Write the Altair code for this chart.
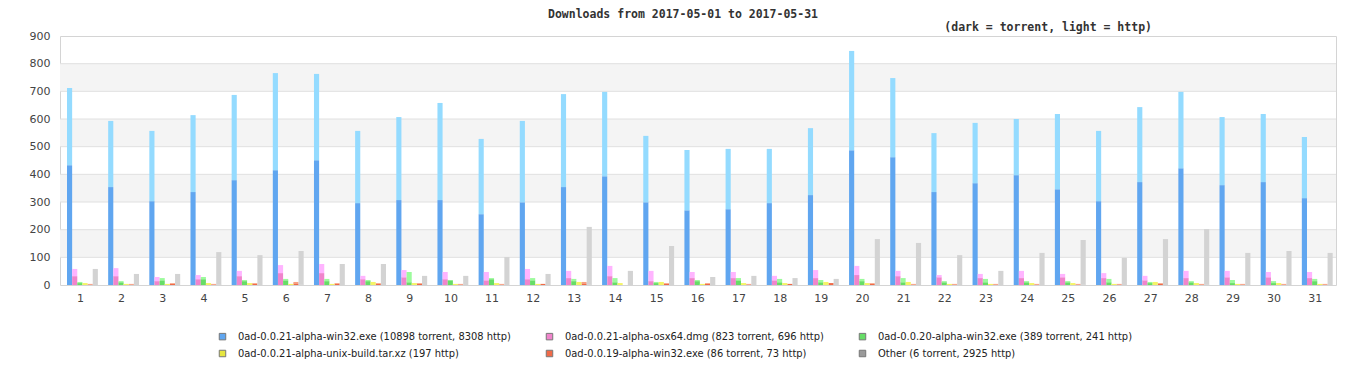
import altair as alt
import pandas as pd

days = list(range(1, 32))

series = [
    "0ad-0.0.21-alpha-win32.exe (10898 torrent, 8308 http)",
    "0ad-0.0.21-alpha-osx64.dmg (823 torrent, 696 http)",
    "0ad-0.0.20-alpha-win32.exe (389 torrent, 241 http)",
    "0ad-0.0.21-alpha-unix-build.tar.xz (197 http)",
    "0ad-0.0.19-alpha-win32.exe (86 torrent, 73 http)",
    "Other (6 torrent, 2925 http)",
]

# per-day totals (torrent + http) and torrent parts
win32_total = [712, 593, 557, 614, 687, 766, 763, 557, 607, 658, 528, 593, 690, 698, 539, 488,
               492, 492, 567, 846, 748, 549, 586, 600, 618, 557, 643, 698, 607, 618, 535]
win32_torrent = [433, 354, 303, 336, 379, 415, 451, 296, 307, 307, 256, 299, 354, 393, 299, 270,
                 274, 296, 325, 487, 462, 336, 368, 397, 346, 303, 372, 422, 361, 372, 314]

osx_total = [58, 61, 29, 36, 51, 72, 76, 33, 54, 47, 47, 58, 51, 69, 51, 47,
             47, 33, 54, 69, 51, 36, 40, 51, 40, 43, 33, 51, 51, 47, 47]
osx_torrent = [32, 32, 14, 21, 32, 43, 43, 21, 28, 21, 17, 21, 25, 32, 14, 25,
               25, 17, 25, 36, 32, 28, 25, 25, 28, 25, 17, 25, 28, 28, 25]

w20_total = [11, 14, 25, 29, 18, 22, 22, 18, 47, 18, 25, 25, 22, 25, 11, 18,
             25, 22, 18, 22, 25, 14, 22, 14, 14, 22, 11, 14, 18, 14, 22]
w20_torrent = [7, 10, 17, 21, 14, 17, 14, 14, 10, 17, 21, 17, 14, 10, 7, 14,
               17, 10, 10, 14, 10, 10, 10, 10, 10, 10, 7, 10, 7, 7, 14]

unix_total = [7, 4, 4, 7, 7, 4, 4, 11, 7, 4, 7, 4, 11, 7, 11, 4,
              7, 7, 11, 7, 11, 4, 4, 7, 7, 4, 11, 7, 4, 7, 4]
unix_torrent = [0] * 31

w19_total = [4, 4, 7, 4, 7, 11, 7, 7, 7, 4, 4, 4, 11, 0, 7, 7,
             4, 4, 7, 7, 4, 4, 4, 4, 4, 4, 7, 4, 4, 4, 4]
w19_torrent = [2, 2, 4, 2, 4, 6, 4, 4, 4, 2, 2, 4, 6, 0, 4, 4,
               2, 4, 7, 4, 2, 2, 2, 2, 2, 2, 4, 2, 2, 2, 2]

other_total = [58, 40, 40, 119, 108, 123, 76, 76, 33, 33, 101, 40, 210, 51, 141, 29,
               33, 25, 22, 166, 152, 108, 51, 116, 163, 98, 166, 202, 116, 123, 116]
other_torrent = [0, 0, 0, 1, 0, 1, 0, 0, 0, 0, 0, 0, 1, 0, 0, 0,
                 0, 0, 0, 1, 0, 0, 0, 0, 1, 0, 0, 1, 0, 0, 0]

totals = [win32_total, osx_total, w20_total, unix_total, w19_total, other_total]
torrents = [win32_torrent, osx_torrent, w20_torrent, unix_torrent, w19_torrent, other_torrent]

dark_colors = ["#60a6f0", "#f084cc", "#66dd66", "#e6e640", "#f06a48", "#9a9a9a"]
light_colors = ["#94dbff", "#ffb4ff", "#9cfb9c", "#f4f466", "#f8a080", "#d3d3d3"]

y_ticks = list(range(0, 1000, 100))
band_lo = [100, 300, 500, 700]
band_hi = [200, 400, 600, 800]

title_text = "Downloads from 2017-05-01 to 2017-05-31"
subtitle_text = "(dark = torrent, light = http)"

rows = []
for s, tot, tor in zip(series, totals, torrents):
    for d, a, b in zip(days, tot, tor):
        rows.append({"day": d, "series": s, "torrent": b, "total": a, "http": a - b})
df = pd.DataFrame(rows)

W, H = 1276, 249
ydom = [0, 900]
yscale = alt.Scale(domain=ydom, nice=False)
yaxis = alt.Axis(values=y_ticks, tickCount=10, ticks=False, tickSize=0, domain=False, grid=False,
                 labelOverlap=False, labelPadding=10, labelFont="DejaVu Sans",
                 labelFontSize=11, labelColor="#444")

bands = alt.Chart(pd.DataFrame({"lo": band_lo, "hi": band_hi})).mark_rect(color="#f4f4f4").encode(
    y=alt.Y("lo:Q", scale=yscale, title=None, axis=yaxis),
    y2="hi:Q",
    x=alt.value(0),
    x2=alt.value(W),
)

grid = alt.Chart(pd.DataFrame({"v": y_ticks[1:-1]})).mark_rule(color="#e0e0e0", strokeWidth=1).encode(
    y=alt.Y("v:Q", scale=yscale, title=None, axis=yaxis),
)

base = alt.Chart(df).encode(
    x=alt.X("day:O", title=None,
            scale=alt.Scale(paddingInner=0.25, paddingOuter=0.125, align=0.68),
            axis=alt.Axis(labelAngle=0, ticks=False, tickSize=0, domain=False, labelPadding=7,
                          labelFont="DejaVu Sans", labelFontSize=11, labelColor="#444",
                          labelOffset=-2, grid=False)),
    xOffset=alt.XOffset("series:N", sort=series,
                        scale=alt.Scale(domain=series, paddingInner=0, paddingOuter=0)),
)

torrent_bars = base.mark_bar().encode(
    y=alt.Y("torrent:Q", scale=yscale, title=None, axis=yaxis),
    color=alt.Color("series:N", sort=series,
                    scale=alt.Scale(domain=series, range=dark_colors),
                    legend=alt.Legend(title=None, orient="none", legendX=157, legendY=295,
                                      direction="horizontal", columns=3, columnPadding=33,
                                      rowPadding=5, symbolType="square", symbolSize=42,
                                      symbolStrokeColor="#777", symbolStrokeWidth=1,
                                      labelFont="DejaVu Sans Condensed, Liberation Sans Narrow, DejaVu Sans",
                                      labelFontSize=11, labelColor="#222", labelLimit=500,
                                      labelOffset=10)),
)

http_bars = base.mark_bar().encode(
    y=alt.Y("torrent:Q", scale=yscale, title=None, axis=yaxis),
    y2="total:Q",
    color=alt.Color("series:N", sort=series,
                    scale=alt.Scale(domain=series, range=light_colors), legend=None),
)

title = alt.Chart(pd.DataFrame({"t": [title_text]})).mark_text(
    font="DejaVu Sans Mono", fontSize=11.5, fontWeight="bold", color="#333",
    align="center", baseline="middle").encode(
    text="t:N", x=alt.value(623), y=alt.value(-21))

subtitle = alt.Chart(pd.DataFrame({"t": [subtitle_text]})).mark_text(
    font="DejaVu Sans Mono", fontSize=11.5, fontWeight="bold", color="#333",
    align="right", baseline="middle").encode(
    text="t:N", x=alt.value(1092), y=alt.value(-8))

chart = alt.layer(bands, grid, torrent_bars, http_bars, title, subtitle).resolve_scale(
    color="independent"
).properties(
    width=W, height=H, autosize="none",
    padding={"left": 52, "top": 28, "right": 22, "bottom": 87},
).configure_view(stroke="#d4d4d4", strokeWidth=1)

chart.save("out.html", embed_options={"renderer": "svg", "actions": False})
